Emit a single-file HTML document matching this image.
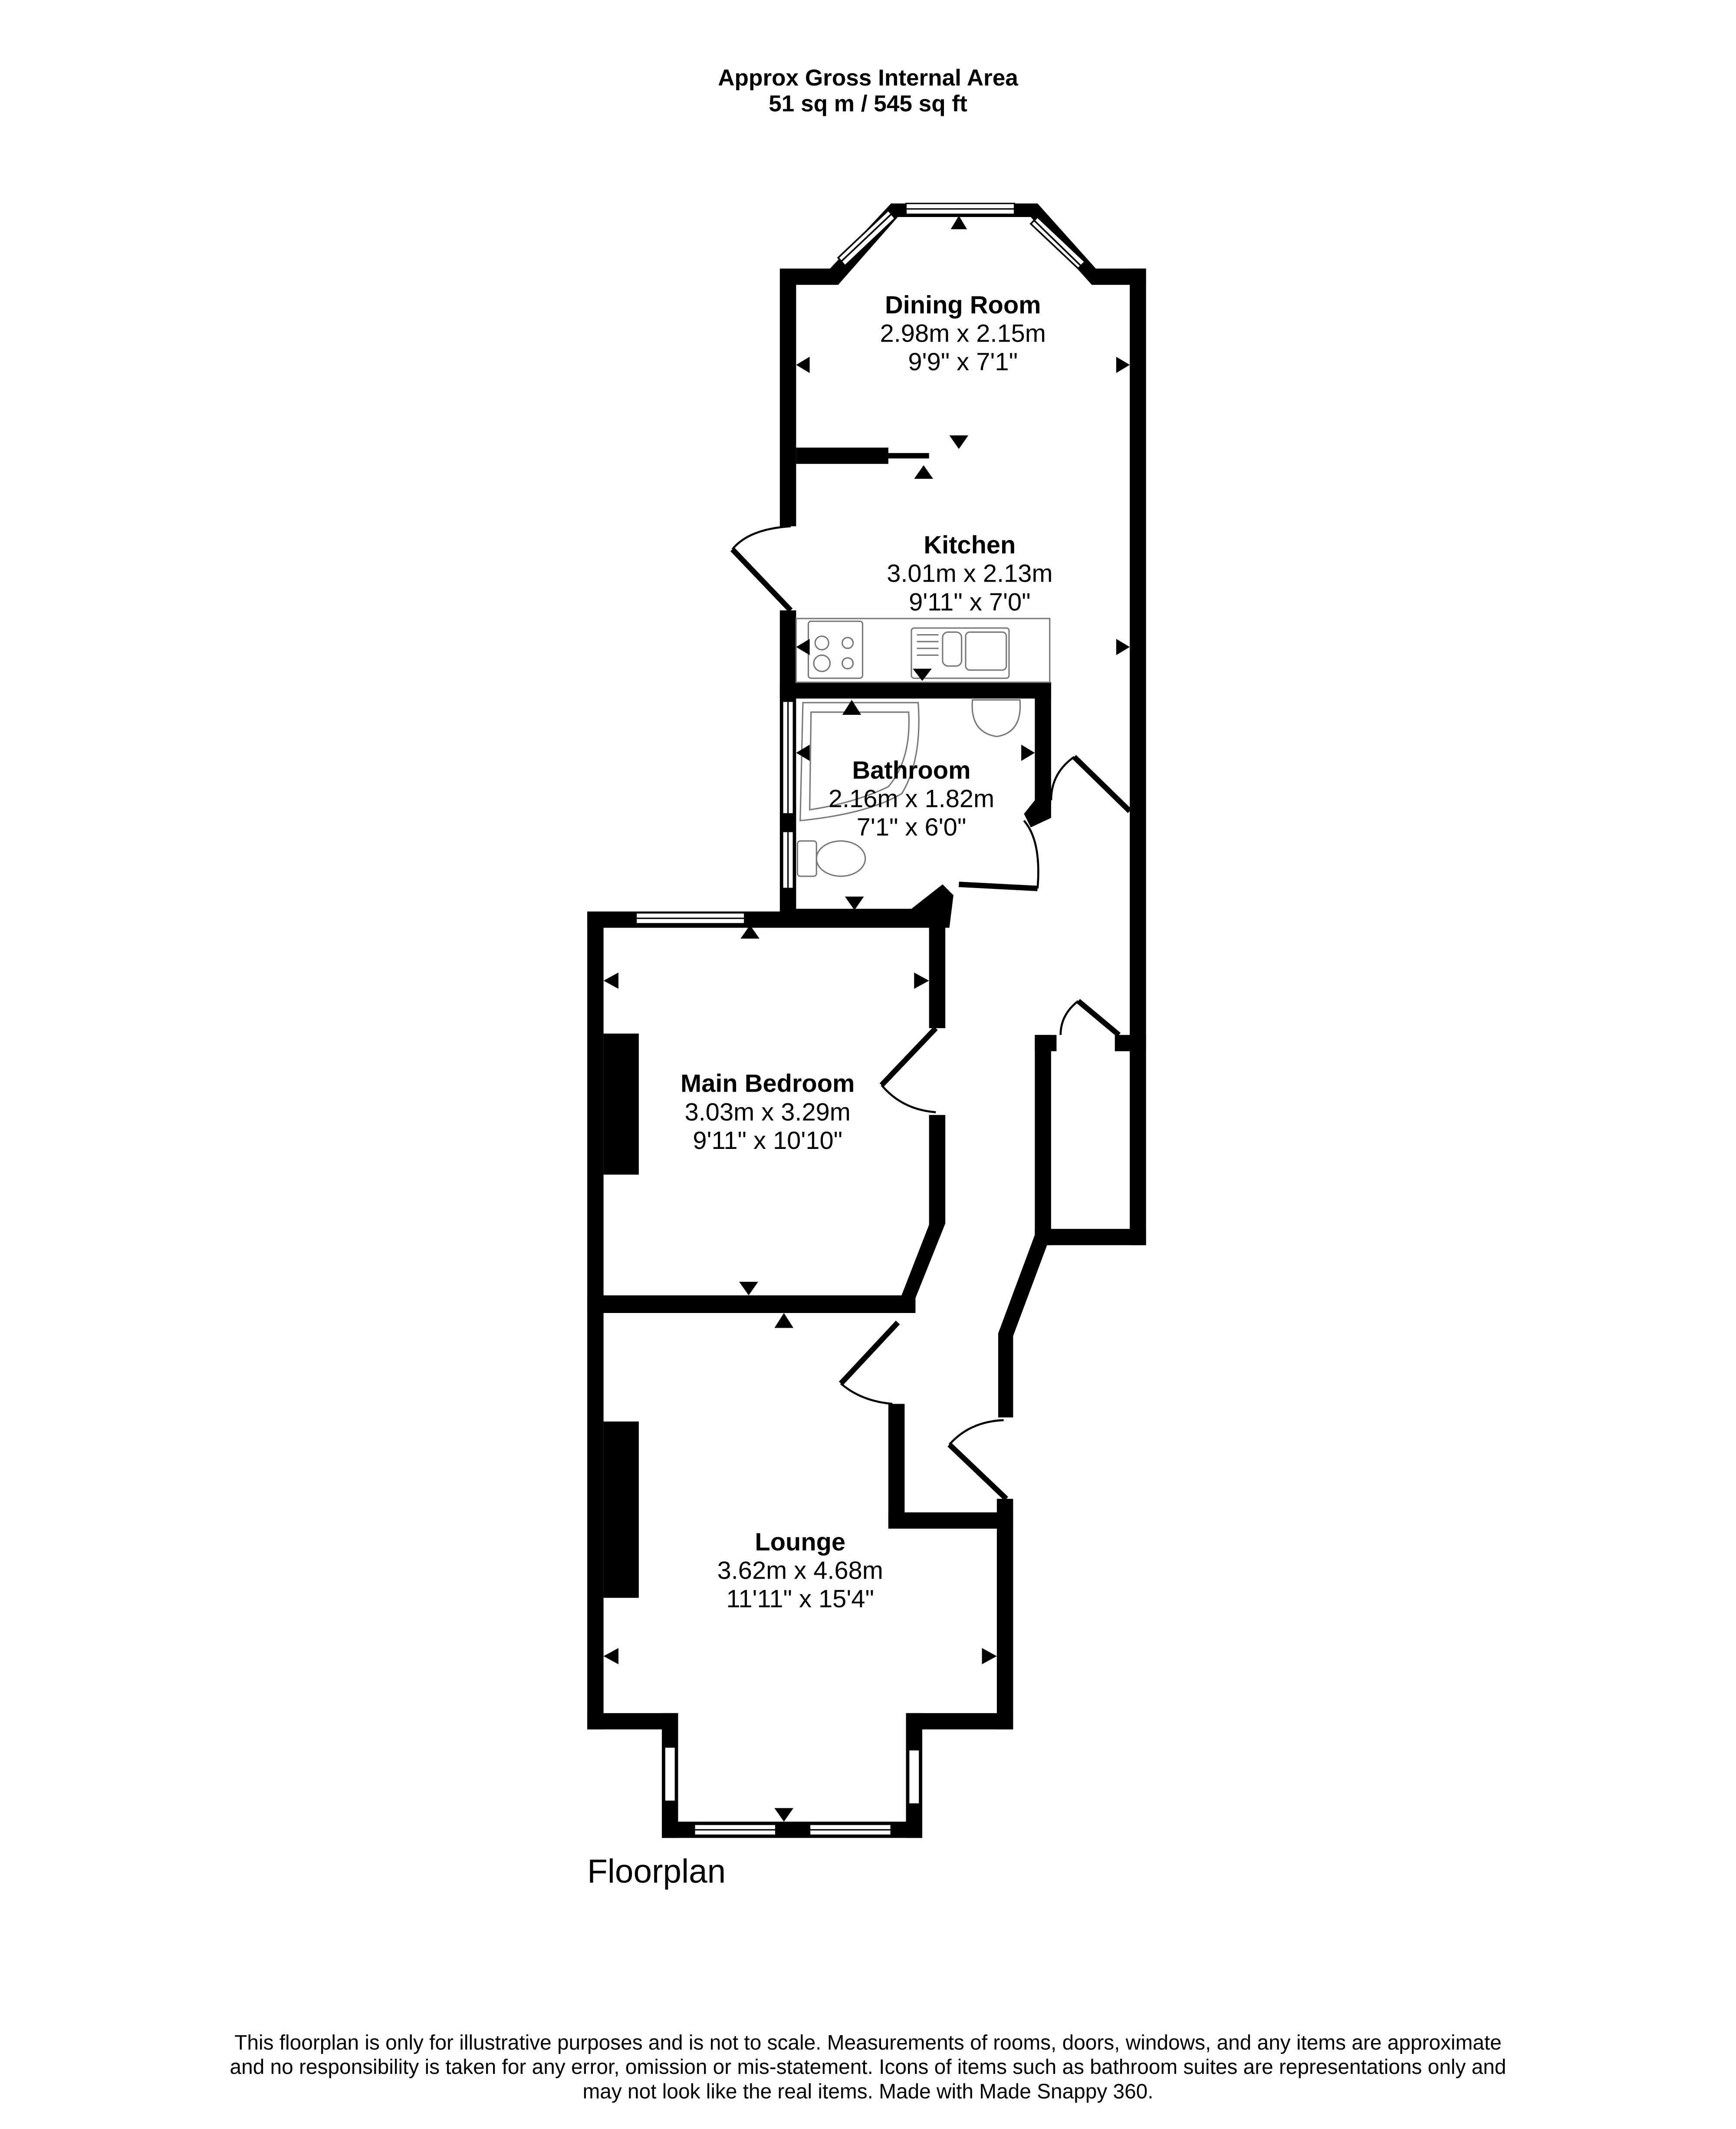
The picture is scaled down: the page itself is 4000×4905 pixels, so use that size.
<!DOCTYPE html>
<html><head><meta charset="utf-8"><style>html,body{margin:0;padding:0;background:#fff}svg{display:block}</style></head>
<body>
<svg width="4000" height="4905" viewBox="0 0 1280 1569.6" xmlns="http://www.w3.org/2000/svg" font-family="Liberation Sans, Arial, sans-serif">
<rect width="1280" height="1570" fill="#fff"/>
<text x="640" y="63" text-anchor="middle" font-size="17" font-weight="bold">Approx Gross Internal Area</text>
<text x="640" y="82" text-anchor="middle" font-size="17" font-weight="bold">51 sq m / 545 sq ft</text>

<g fill="#000">
<polygon points="575,198 612,198 657,150 765,150 808,198 845,198 845,210 805,210 760,160 662,160 618,210 587,210 587,388 575,388"/>
<rect x="833" y="198" width="12" height="720"/>
<rect x="587" y="330" width="68" height="12"/>
<rect x="655" y="334" width="30" height="4"/>
<rect x="575" y="450" width="12" height="233"/>
<rect x="575" y="503" width="200" height="12"/>
<rect x="763" y="503" width="12" height="90"/>
<polygon points="763,590 775,590 775,603 760,610 755,600"/>
<polygon points="575,670 672,670 695,652 703,660 700,684 575,684"/>
<rect x="433" y="672" width="264" height="12"/>
<rect x="433" y="672" width="12" height="603"/>
<rect x="685" y="672" width="12" height="86"/>
<polygon points="685,822 697,822 697,902 673,962 662,962 685,903"/>
<rect x="433" y="955" width="242" height="13"/>
<rect x="445" y="762" width="26" height="104"/>
<rect x="445" y="1048" width="26" height="130"/>
<rect x="655" y="1035" width="12" height="90"/>
<rect x="655" y="1115" width="92" height="12"/>
<rect x="735" y="1105" width="12" height="170"/>
<rect x="433" y="1263" width="67" height="12"/>
<rect x="668" y="1263" width="79" height="12"/>
<rect x="488" y="1263" width="12" height="92"/>
<rect x="668" y="1263" width="12" height="92"/>
<rect x="488" y="1343" width="192" height="12"/>
<polygon points="765,905 775,910 747,985 747,1045 736,1045 736,983"/>
<rect x="763" y="763" width="12" height="155"/>
<rect x="763" y="906" width="82" height="12"/>
<rect x="763" y="763" width="16" height="12"/>
<rect x="822" y="763" width="23" height="12"/>
</g>

<g fill="#fff" stroke="#000" stroke-width="1">
<rect x="668" y="150" width="80" height="8"/>
<line x1="668" y1="154" x2="748" y2="154"/>
<rect x="469" y="673" width="80" height="8"/>
<line x1="469" y1="677" x2="549" y2="677"/>
<rect x="577" y="517" width="8" height="83"/>
<line x1="581" y1="517" x2="581" y2="600"/>
<rect x="577" y="613" width="8" height="42"/>
<line x1="581" y1="613" x2="581" y2="655"/>
<rect x="490" y="1288" width="8" height="40"/>
<rect x="670" y="1290" width="8" height="40"/>
<rect x="512" y="1345" width="60" height="8"/>
<line x1="512" y1="1349" x2="572" y2="1349"/>
<rect x="597" y="1345" width="60" height="8"/>
<line x1="597" y1="1349" x2="657" y2="1349"/>
</g>
<g stroke="#000" stroke-width="1.2" fill="none">
<polygon points="618,190 655,155 660,161 623,196" fill="#fff"/>
<line x1="620" y1="193" x2="657" y2="158"/>
<polygon points="765,160 800,193 795,198 760,165" fill="#fff"/>
<line x1="762" y1="162" x2="797" y2="196"/>
</g>

<g stroke="#000" fill="none">
<line x1="583" y1="450" x2="540" y2="405" stroke-width="4"/>
<path d="M540,405 Q552,390 583,388" stroke-width="1.5"/>
<line x1="707" y1="652" x2="765" y2="655" stroke-width="4"/>
<path d="M765,655 Q768,620 755,605" stroke-width="1.5"/>
<line x1="833" y1="598" x2="792" y2="558" stroke-width="4"/>
<path d="M792,558 Q775,570 775,590" stroke-width="1.5"/>
<line x1="690" y1="758" x2="650" y2="800" stroke-width="4"/>
<path d="M650,800 Q665,818 690,820" stroke-width="1.5"/>
<line x1="662" y1="975" x2="620" y2="1020" stroke-width="4"/>
<path d="M620,1020 Q635,1033 658,1035" stroke-width="1.5"/>
<line x1="742" y1="1105" x2="700" y2="1065" stroke-width="4"/>
<path d="M700,1065 Q715,1048 740,1047" stroke-width="1.5"/>
<line x1="825" y1="763" x2="795" y2="738" stroke-width="4"/>
<path d="M795,738 Q782,748 782,763" stroke-width="1.5"/>
</g>

<g stroke="#777" fill="none" stroke-width="1">
<rect x="587" y="456" width="187" height="47"/>
<rect x="596" y="458" width="40" height="42" rx="2"/>
<circle cx="606" cy="474" r="5"/><circle cx="625" cy="474" r="4"/>
<circle cx="606" cy="489" r="6"/><circle cx="625" cy="489" r="4"/>
<rect x="672" y="463" width="72" height="37" rx="2"/>
<rect x="695" y="466" width="14" height="25" rx="4"/>
<rect x="712" y="466" width="30" height="28" rx="3"/>
<line x1="676" y1="468" x2="692" y2="468"/><line x1="676" y1="473" x2="692" y2="473"/><line x1="676" y1="478" x2="692" y2="478"/><line x1="676" y1="483" x2="692" y2="483"/>
<path d="M592,518 L677,518 Q680,560 665,585 Q640,600 590,605 Z"/>
<path d="M598,525 L670,525 Q672,560 655,580 Q630,592 597,597 Z"/>
<path d="M717,516 L752,516 Q754,540 735,543 Q715,540 717,516 Z"/>
<rect x="588" y="620" width="14" height="26" rx="2"/>
<ellipse cx="620" cy="633" rx="18" ry="13"/>
</g>

<g fill="#000">
<polygon points="707,159 701,169 713,169"/>
<polygon points="587,269 597,263 597,275"/>
<polygon points="833,269 823,263 823,275"/>
<polygon points="700,321 714,321 707,331"/>
<polygon points="674,353 688,353 681,343"/>
<polygon points="587,477 597,471 597,483"/>
<polygon points="833,477 823,471 823,483"/>
<polygon points="673,493 687,493 680,502"/>
<polygon points="621,527 635,527 628,516"/>
<polygon points="587,555 597,549 597,561"/>
<polygon points="763,555 753,549 753,561"/>
<polygon points="623,661 637,661 630,671"/>
<polygon points="546,692 560,692 553,682"/>
<polygon points="445,723 456,717 456,729"/>
<polygon points="685,723 674,717 674,729"/>
<polygon points="545,945 559,945 552,955"/>
<polygon points="571,979 585,979 578,968"/>
<polygon points="445,1221 456,1215 456,1227"/>
<polygon points="735,1221 724,1215 724,1227"/>
<polygon points="571,1333 585,1333 578,1343"/>
</g>

<g text-anchor="middle" font-size="18.5">
<text x="710" y="231" font-weight="bold">Dining Room</text>
<text x="710" y="252">2.98m x 2.15m</text>
<text x="710" y="273">9'9" x 7'1"</text>
<text x="715" y="408" font-weight="bold">Kitchen</text>
<text x="715" y="429">3.01m x 2.13m</text>
<text x="715" y="450">9'11" x 7'0"</text>
<text x="672" y="574" font-weight="bold">Bathroom</text>
<text x="672" y="595">2.16m x 1.82m</text>
<text x="672" y="616">7'1" x 6'0"</text>
<text x="566" y="805" font-weight="bold">Main Bedroom</text>
<text x="566" y="826">3.03m x 3.29m</text>
<text x="566" y="847">9'11" x 10'10"</text>
<text x="590" y="1143" font-weight="bold">Lounge</text>
<text x="590" y="1164">3.62m x 4.68m</text>
<text x="590" y="1185">11'11" x 15'4"</text>
</g>
<text x="433" y="1388" font-size="24.5">Floorplan</text>
<g text-anchor="middle" font-size="15.3">
<text x="640" y="1511">This floorplan is only for illustrative purposes and is not to scale. Measurements of rooms, doors, windows, and any items are approximate</text>
<text x="640" y="1529">and no responsibility is taken for any error, omission or mis-statement. Icons of items such as bathroom suites are representations only and</text>
<text x="640" y="1547">may not look like the real items. Made with Made Snappy 360.</text>
</g>
</svg>
</body></html>
